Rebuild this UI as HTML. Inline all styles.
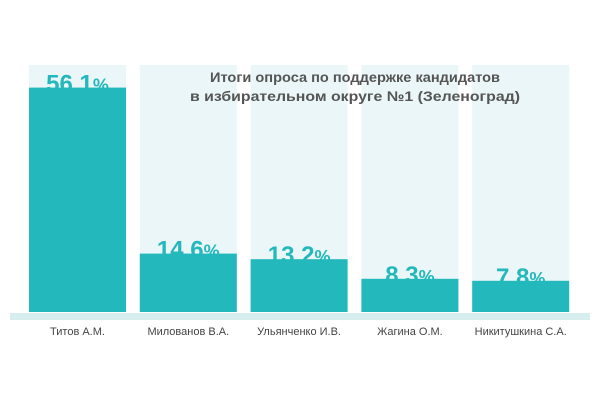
<!DOCTYPE html>
<html><head><meta charset="utf-8"><style>
body{margin:0;background:#fff;}
svg{display:block;font-family:"Liberation Sans",sans-serif;}
</style></head><body>
<svg width="600" height="400">
<rect x="10" y="313" width="580" height="7" fill="#d6eeee"/>
<g id="bars"></g>
<text x="355" y="82" text-anchor="middle" font-size="14" font-weight="bold" fill="#555" textLength="290" lengthAdjust="spacingAndGlyphs">Итоги опроса по поддержке кандидатов</text>
<text x="355" y="101" text-anchor="middle" font-size="14" font-weight="bold" fill="#555" textLength="330" lengthAdjust="spacingAndGlyphs">в избирательном округе №1 (Зеленоград)</text>
</svg>
<script>
const categories=["Титов А.М.","Милованов В.А.","Ульянченко И.В.","Жагина О.М.","Никитушкина С.А."];
const values=[56.1,14.6,13.2,8.3,7.8];
const valueLabels=["56.1","14.6","13.2","8.3","7.8"];
const ns="http://www.w3.org/2000/svg";
const g=document.getElementById("bars");
const base=312,scale=4.0,x0=29,step=110.8,bw=97,bgTop=65;
function xPos(i){return x0+i*step;}
function yPos(v){return base-v*scale;}
categories.forEach((c,i)=>{
 const x=xPos(i);
 const bg=document.createElementNS(ns,"rect");
 
 
 bg.setAttribute("x",x);bg.setAttribute("y",bgTop);bg.setAttribute("width",bw);bg.setAttribute("height",base-bgTop);bg.setAttribute("fill","#eaf6f7");
 g.appendChild(bg);
 const r=document.createElementNS(ns,"rect");
 
 
 const y=yPos(values[i]);
 r.setAttribute("x",x);r.setAttribute("y",y);r.setAttribute("width",bw);r.setAttribute("height",base-y);r.setAttribute("fill","#22b8bc");
 g.appendChild(r);
 const t=document.createElementNS(ns,"text");
 
 
 t.setAttribute("x",x+bw/2);t.setAttribute("y",y+4);t.setAttribute("text-anchor","middle");
 t.setAttribute("font-size","24");t.setAttribute("font-weight","bold");t.setAttribute("fill","#22b8bc");
 t.innerHTML=valueLabels[i]+'<tspan font-size="18">%</tspan>';
 g.appendChild(t);
 const l=document.createElementNS(ns,"text");
 
 
 l.setAttribute("x",x+bw/2);l.setAttribute("y",335);l.setAttribute("text-anchor","middle");
 l.setAttribute("font-size","11");l.setAttribute("fill","#444");
 l.textContent=c;
 g.appendChild(l);
});
</script>
</body></html>
